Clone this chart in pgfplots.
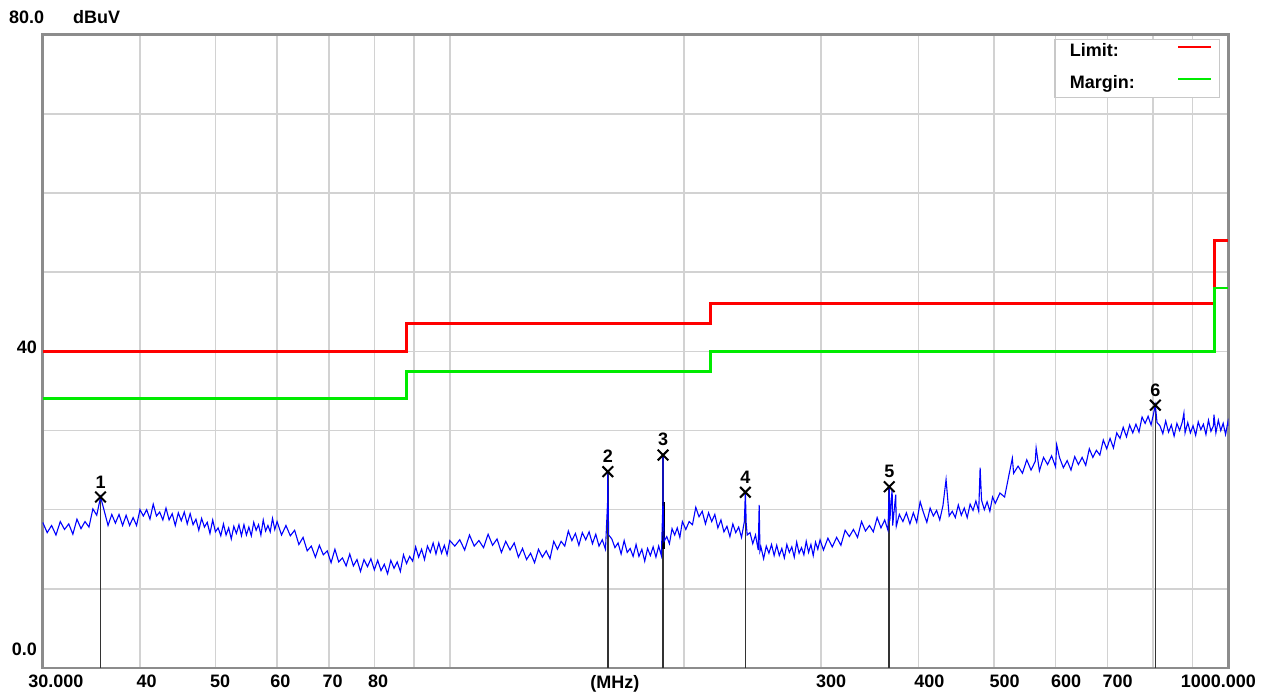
\documentclass[border=0pt]{standalone}
\usepackage{fontspec}
\setmainfont{Liberation Sans}
\usepackage{pgfplots}
\usepackage{pgfplotstable}
\pgfplotsset{compat=1.18}

\definecolor{framegray}{RGB}{140,140,140}
\definecolor{gridgray}{RGB}{210,210,210}
\definecolor{tracblue}{RGB}{0,0,255}
\definecolor{limred}{RGB}{255,0,0}
\definecolor{margreen}{RGB}{0,235,0}
\definecolor{legframe}{RGB}{200,200,200}

\newcommand{\lblfont}{\fontsize{18}{20}\selectfont\bfseries}

% Measured spectrum: frequency (MHz), level (dBuV)
\pgfplotstableread{
f lvl
30.0 18.4
30.4 17.1
30.8 18.0
31.2 16.8
31.6 18.5
32.0 17.5
32.4 18.2
32.8 16.9
33.2 18.8
33.6 17.6
34.0 18.5
34.4 17.8
34.8 20.1
35.2 19.3
35.6 21.6
36.0 19.8
36.4 18.0
36.8 19.4
37.2 18.3
37.6 19.4
38.0 18.0
38.4 19.3
38.8 18.0
39.2 19.0
39.6 18.0
40.0 20.0
40.4 19.2
40.8 20.0
41.2 18.8
41.6 20.7
42.0 19.2
42.4 19.7
42.8 18.7
43.2 20.2
43.6 18.7
44.0 19.5
44.4 18.0
44.8 19.6
45.2 18.6
45.6 19.7
46.0 18.2
46.4 19.5
46.8 18.1
47.2 18.8
47.6 17.4
48.0 18.9
48.4 17.8
48.8 18.4
49.2 17.0
49.6 18.7
50.0 17.2
50.4 17.7
50.8 16.7
51.2 18.2
51.6 16.8
52.0 17.7
52.4 16.3
52.8 17.9
53.2 17.0
53.6 18.1
54.0 16.7
54.4 18.1
54.8 16.8
55.2 17.8
55.6 16.7
56.0 18.4
56.4 17.4
56.8 18.1
57.2 16.8
57.6 18.7
58.0 17.3
58.4 18.0
58.8 17.2
59.2 18.9
59.6 17.5
60.0 18.5
60.8 16.8
61.6 18.0
62.4 16.7
63.2 17.4
64.0 15.6
64.8 16.5
65.6 14.8
66.4 15.4
67.2 14.0
68.0 15.5
68.8 14.3
69.6 14.8
70.4 13.3
71.2 15.0
72.0 13.4
72.8 13.9
73.6 12.9
74.4 14.4
75.2 12.9
76.0 13.7
76.8 12.2
77.6 13.7
78.4 12.8
79.2 13.8
80.0 12.4
80.8 13.6
81.6 12.3
82.4 13.1
83.2 11.9
84.0 13.6
84.8 12.6
85.6 13.4
86.4 12.2
87.2 14.3
88.0 13.2
88.8 14.1
89.6 13.5
90.4 15.3
91.2 14.0
92.0 15.0
92.8 13.7
93.6 15.4
94.4 14.6
95.2 15.8
96.0 14.4
96.8 15.8
97.6 14.5
98.4 15.5
99.2 14.3
100.0 16.1
101.5 15.4
103 16.2
104.5 14.9
106 16.8
107.5 15.4
109 16.1
110.5 15.2
112 16.9
113.5 15.5
115 16.3
116.5 14.6
118 16.0
119.5 14.9
121 15.8
122.5 14.0
124 15.1
125.5 13.7
127 14.5
128.5 13.3
130 15.0
131.5 14.0
133 14.8
134.5 13.8
136 16.0
137.5 15.0
139 16.0
140.5 15.4
142 17.3
143.5 16.1
145 17.0
146.5 15.5
148 17.1
149.5 16.2
151 17.2
152.5 15.7
154 16.9
155.5 15.4
157 16.2
158.5 15.0
159.5 21.0
159.6 24.8
159.7 21.5
160 16.8
161.5 16.3
163 15.2
164.5 15.8
166 14.4
167.5 16.1
169 14.6
170.5 15.1
172 14.1
173.5 15.6
175 14.1
176.5 15.0
178 13.5
179.5 15.1
181 14.2
182.5 15.3
184 14.0
185.5 15.4
187 14.2
187.85 21.0
187.9 26.9
187.95 21.0
188.5 16.0
190 16.6
191.5 15.7
193 17.6
194.5 16.8
196 17.7
197.5 16.5
199 18.5
201 17.5
203 18.5
205 18.1
207 20.3
209 19.1
211 19.8
213 18.2
215 19.6
217 18.5
219 19.4
221 17.7
223 18.7
225 17.2
227 17.9
229 16.6
231 18.2
233 17.1
235 17.8
237 16.5
239 18.5
239.7 22.2
240.3 18.3
241 16.8
243 17.1
245 15.7
247 16.8
249 14.9
249.7 20.6
250.3 14.8
251 15.3
253 13.8
255 15.4
257 14.5
259 15.6
261 14.2
263 15.5
265 14.2
267 15.1
269 13.9
271 15.6
273 14.6
275 15.3
277 14.0
279 15.9
281 14.5
283 15.2
285 14.3
287 16.0
289 14.6
291 15.6
293 14.2
295 15.9
297 15.0
299 16.2
302 14.9
306 16.4
310 15.3
314 16.5
318 15.5
322 17.4
326 16.6
330 17.5
334 16.5
338 18.5
342 17.3
346 18.0
350 17.2
354 19.0
358 17.7
362 18.7
365.5 17.4
366.9 22.9
367.5 18.6
370 22.6
370.6 18.0
374 21.9
374.6 17.9
378 19.4
382 18.5
386 19.6
390 18.2
394 19.6
398 18.4
402 21.0
406 19.6
410 18.4
414 20.2
418 19.2
422 19.9
426 18.7
430 20.5
434 23.8
438 19.2
442 19.8
446 19.0
450 20.6
454 19.3
458 20.2
462 19.0
466 20.7
470 19.9
474 21.1
478 19.8
480 25.3
482 21.2
486 20.0
490 21.0
494 19.8
498 21.6
502 20.8
509 22.1
516 21.6
523 24.5
528 26.5
530 24.6
537 25.5
544 24.6
551 26.3
558 25.0
565 26.1
566.5 27.8
572 24.9
579 26.6
586 25.7
593 26.8
600 25.4
602 28.2
607 26.6
614 25.3
621 26.2
628 25.0
635 26.7
642 25.7
649 26.6
656 25.6
663 27.7
670 26.6
677 27.5
684 26.9
691 28.8
698 27.7
705 29.0
712 27.8
719 29.7
726 29.0
733 30.4
740 29.2
747 30.7
754 29.7
761 30.8
768 29.8
775 31.7
782 30.9
789 31.8
796 30.7
802 32.2
805.9 33.2
810 31.0
817 30.6
824 29.6
831 31.2
838 29.8
845 30.7
852 29.3
859 30.9
866 30.0
873 31.1
877 32.2
880 29.7
887 31.0
894 29.7
901 30.6
908 29.4
915 31.1
922 30.1
929 30.8
936 29.5
943 31.3
950 29.9
957 30.6
958.5 32.0
964 29.7
971 31.3
978 30.0
985 30.9
992 29.5
999 31.1
1000 30.6
}\spectrum

\begin{document}
\begin{tikzpicture}[font=\lblfont]
\path[use as bounding box] (0,0) rectangle (1272pt,695pt);
\begin{axis}[
  at={(42.7pt,27pt)}, anchor=south west,
  scale only axis, width=1185.6pt, height=633.3pt,
  xmode=log, xmin=30, xmax=1000, ymin=0, ymax=80,
  axis line style={line width=2.5pt, draw=framegray},
  xtick={31.2,40.8,50.7,60.6,70.7,80.9,163,309,413,516,619,721,971},
  xticklabels={30.000,40,50,60,70,80,(MHz),300,400,500,600,700,1000.000},
  minor xtick={40,50,60,70,80,90,100,200,300,400,500,600,700,800,900},
  ytick={10,20,30,40,50,60,70},
  yticklabels={},
  xminorgrids=true, xmajorgrids=false, ymajorgrids=true,
  minor grid style={draw=gridgray, line width=1.6pt},
  major grid style={draw=gridgray, line width=1.6pt},
  major tick length=0pt, minor tick length=0pt,
  xticklabel style={font=\lblfont, anchor=north, inner sep=0pt, yshift=-7pt},
  legend plot pos=right,
  legend cell align=left,
  legend image code/.code={\draw[#1] (0pt,5.5pt) -- (33pt,5.5pt);},
  legend style={at={(axis description cs:0.9933,0.9937)}, anchor=north east,
    draw=legframe, line width=1.5pt, fill=white,
    inner xsep=7pt, inner ysep=4.5pt,
    column sep=34pt, row sep=15pt,
    nodes={font=\lblfont, inner xsep=8pt, inner ysep=0pt,
      text height=13pt, text depth=4pt}},
]
% FCC class B limit and 6 dB margin
\addplot[const plot, draw=limred, line width=2.8pt]
  coordinates {(30,40) (88,40) (88,43.5) (216,43.5) (216,46) (960,46) (960,54) (1000,54)};
\addlegendentry{Limit:}
\addplot[const plot, draw=margreen, line width=2.8pt]
  coordinates {(30,34) (88,34) (88,37.5) (216,37.5) (216,40) (960,40) (960,48) (1000,48)};
\addlegendentry{Margin:}
% marker stems
\addplot[ycomb, draw=black!80, line width=1.6pt, forget plot]
  coordinates {(35.6,21.6) (159.6,24.8) (187.9,26.9) (239.7,22.2) (366.9,22.9) (805.9,33.2)};
\addplot[draw=black, line width=3pt, forget plot]
  coordinates {(187.9,15) (187.9,21)};
% spectrum trace
\addplot[draw=tracblue, line width=1.1pt, forget plot] table[x=f, y=lvl] {\spectrum};
% peak markers
\addplot[only marks, mark=x, mark size=7.5pt, mark options={line width=2pt, draw=black},
  forget plot, point meta=explicit symbolic, nodes near coords,
  every node near coord/.style={font=\lblfont, anchor=south, inner sep=0pt, yshift=8pt, text=black}]
  coordinates {(35.6,21.6)[1] (159.6,24.8)[2] (187.9,26.9)[3] (239.7,22.2)[4] (366.9,22.9)[5] (805.9,33.2)[6]};
\end{axis}
\node[anchor=base west, inner sep=0pt] at (9pt,671pt) {80.0};
\node[anchor=base west, inner sep=0pt] at (73pt,671pt) {dBuV};
\node[anchor=base east, inner sep=0pt] at (37pt,341pt) {40};
\node[anchor=base east, inner sep=0pt] at (37pt,39pt) {0.0};
\end{tikzpicture}
\end{document}
